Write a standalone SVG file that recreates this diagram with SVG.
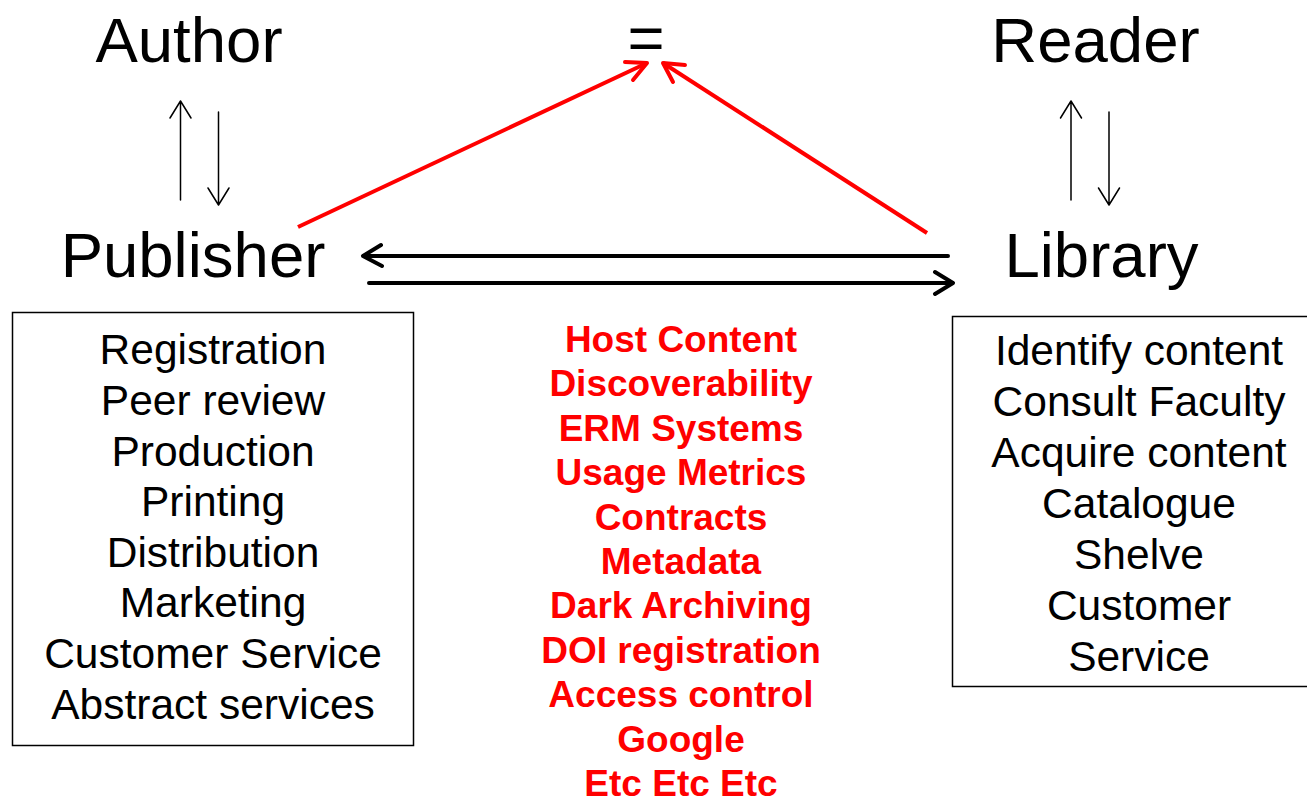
<svg xmlns="http://www.w3.org/2000/svg" width="1307" height="803" viewBox="0 0 1307 803">
  <style>
    .head { font-family: "Liberation Sans", Arial, sans-serif; font-size: 63.5px; fill: #000; text-anchor: middle; }
    .item { font-family: "Liberation Sans", Arial, sans-serif; font-size: 42.5px; fill: #000; text-anchor: middle; }
    .task { font-family: "Liberation Sans", Arial, sans-serif; font-size: 37px; font-weight: bold; fill: #ff0000; text-anchor: middle; }
    .box { fill: #fff; stroke: #000; stroke-width: 1.5; }
    .thin { fill: none; stroke: #000; stroke-width: 1.5; stroke-linecap: round; stroke-linejoin: round; }
    .thick { fill: none; stroke: #000; stroke-width: 4; stroke-linecap: round; stroke-linejoin: round; }
    .red { fill: none; stroke: #ff0000; stroke-width: 4; stroke-linecap: round; stroke-linejoin: round; }
    .red-shaft { fill: none; stroke: #ff0000; stroke-width: 4; stroke-linecap: butt; }
  </style>
  <rect width="1307" height="803" fill="#fff"/>

  <g id="author">
    <text class="head" x="189" y="62">Author</text>
  </g>
  <g id="equals">
    <text class="head" x="646" y="60">=</text>
  </g>
  <g id="reader">
    <text class="head" x="1095.5" y="62">Reader</text>
  </g>
  <g id="publisher">
    <text class="head" x="193" y="277">Publisher</text>
  </g>
  <g id="library">
    <text class="head" x="1101.5" y="277">Library</text>
  </g>

  <g id="publisher-tasks">
    <rect class="box" x="12.5" y="312.5" width="401" height="433"/>
    <text class="item" x="213" y="364">Registration</text>
    <text class="item" x="213" y="415">Peer review</text>
    <text class="item" x="213" y="465.5">Production</text>
    <text class="item" x="213" y="516">Printing</text>
    <text class="item" x="213" y="566.5">Distribution</text>
    <text class="item" x="213" y="617">Marketing</text>
    <text class="item" x="213" y="668">Customer Service</text>
    <text class="item" x="213" y="719">Abstract services</text>
  </g>

  <g id="library-tasks">
    <rect class="box" x="952.5" y="316.5" width="370" height="370"/>
    <text class="item" x="1139" y="365">Identify content</text>
    <text class="item" x="1139" y="416">Consult Faculty</text>
    <text class="item" x="1139" y="467">Acquire content</text>
    <text class="item" x="1139" y="518">Catalogue</text>
    <text class="item" x="1139" y="569">Shelve</text>
    <text class="item" x="1139" y="620">Customer</text>
    <text class="item" x="1139" y="671">Service</text>
  </g>

  <g id="shared-services">
    <text class="task" x="681" y="352">Host Content</text>
    <text class="task" x="681" y="396.4">Discoverability</text>
    <text class="task" x="681" y="440.8">ERM Systems</text>
    <text class="task" x="681" y="485.2">Usage Metrics</text>
    <text class="task" x="681" y="529.6">Contracts</text>
    <text class="task" x="681" y="574">Metadata</text>
    <text class="task" x="681" y="618.4">Dark Archiving</text>
    <text class="task" x="681" y="662.8">DOI registration</text>
    <text class="task" x="681" y="707.2">Access control</text>
    <text class="task" x="681" y="751.6">Google</text>
    <text class="task" x="681" y="796">Etc Etc Etc</text>
  </g>

  <g id="connectors">
    <!-- Author <-> Publisher -->
    <path class="thin" d="M180.5 200 V101 M170 118 L180.5 101 L191 118"/>
    <path class="thin" d="M218.5 112 V205 M208 188 L218.5 205 L229 188"/>
    <!-- Reader <-> Library -->
    <path class="thin" d="M1071 200 V101 M1060.5 118 L1071 101 L1081.5 118"/>
    <path class="thin" d="M1109 112 V205 M1098.5 188 L1109 205 L1119.5 188"/>
    <!-- Library -> Publisher -->
    <path class="thick" d="M948 256 H363 M381 245 L363 256 L382 266"/>
    <!-- Publisher -> Library -->
    <path class="thick" d="M369 283 H953 M935 272 L953 283 L935 294"/>
    <!-- Publisher -> = -->
    <path class="red-shaft" d="M298 227 L647 63"/>
    <path class="red" d="M625 62 L647 63 L633 80"/>
    <!-- Library -> = -->
    <path class="red-shaft" d="M927 233 L663 63"/>
    <path class="red" d="M685 65 L663 63 L673 82"/>
  </g>
</svg>
